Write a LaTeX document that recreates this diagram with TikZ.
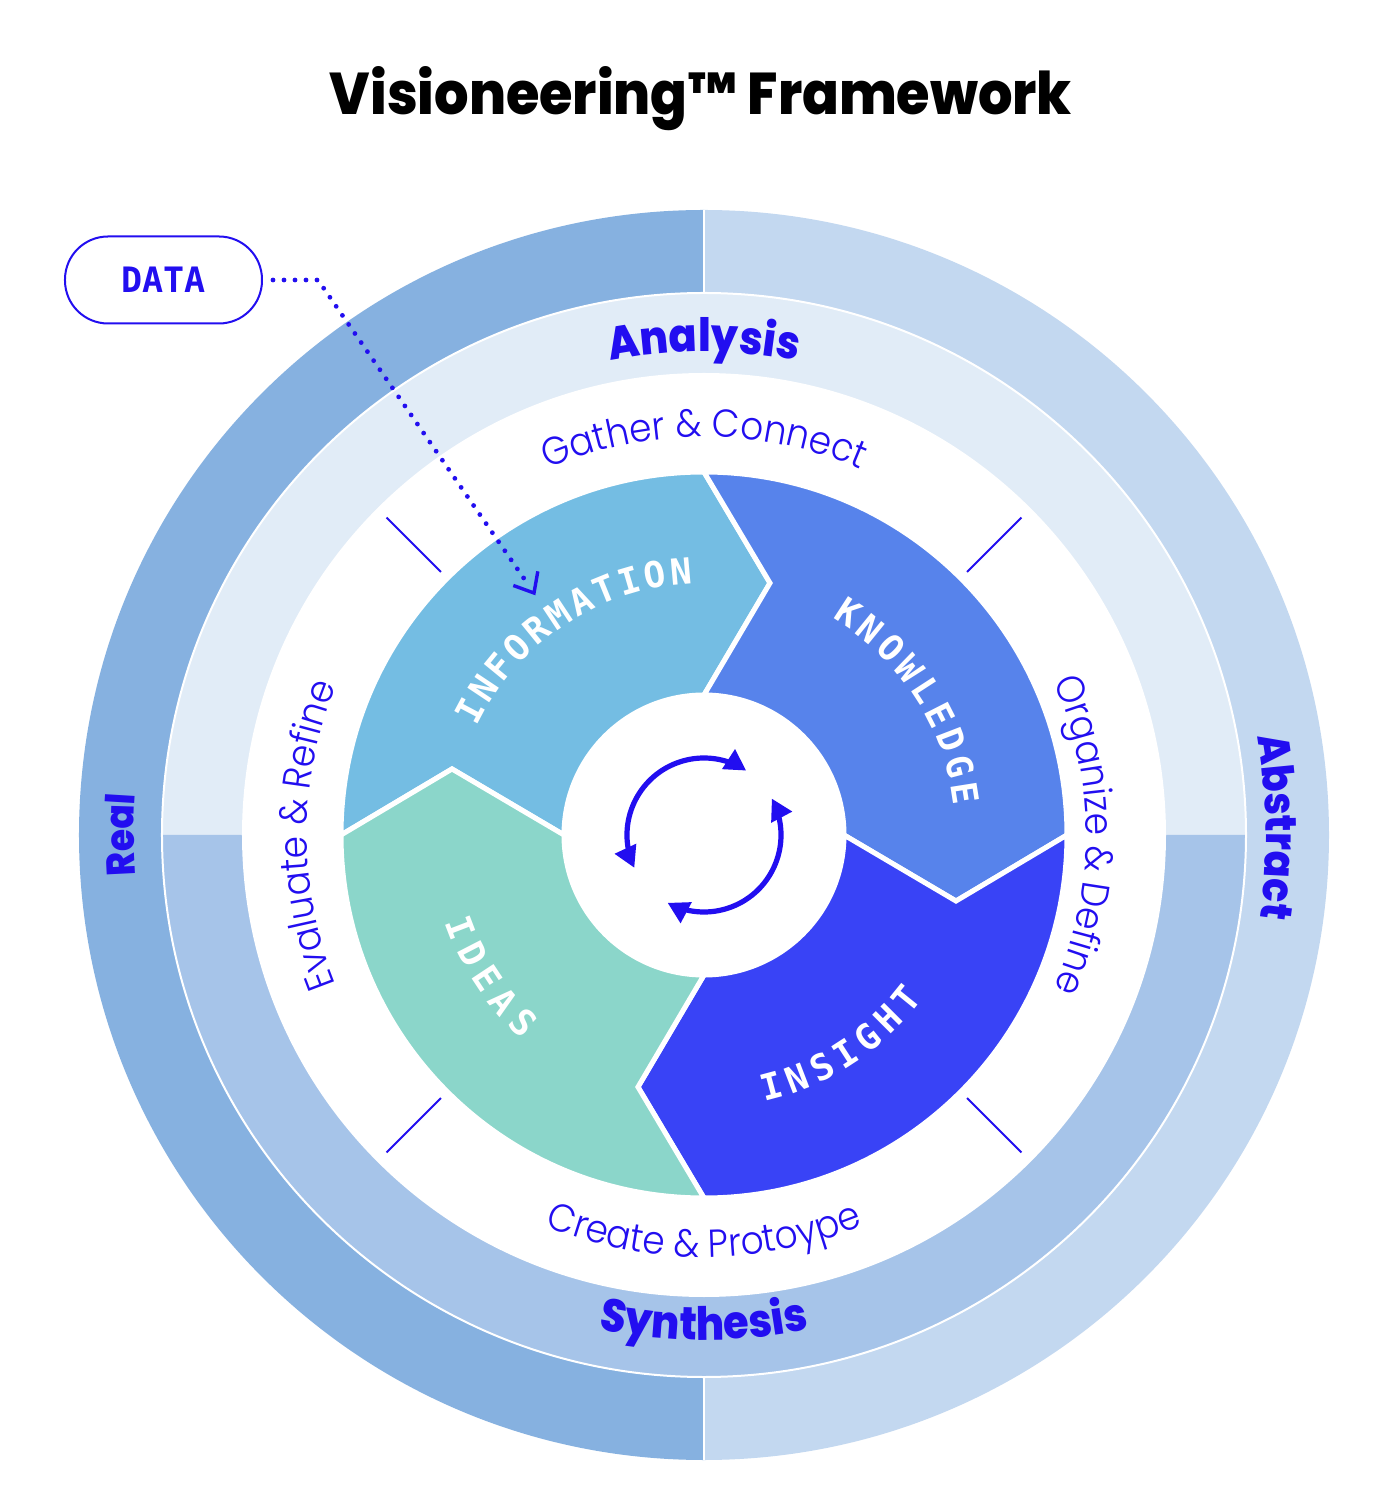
\documentclass[tikz,border=0pt]{standalone}
\usepackage{fontspec}
\usepackage{graphicx}
\usetikzlibrary{arrows.meta,decorations.text}
\setmainfont{Poppins}
\newfontfamily\heavyf{Poppins ExtraBold}[FakeStretch=0.9]
\newfontfamily\lightf{Poppins Light}[FakeStretch=0.92]
\newfontfamily\monof{DejaVu Sans Mono}
\newfontfamily\titlef{Poppins ExtraBold}
\definecolor{vblue}{RGB}{34,14,240}
\definecolor{outL}{HTML}{86B1E0}
\definecolor{outR}{HTML}{C3D8F0}
\definecolor{midT}{HTML}{E1ECF7}
\definecolor{midB}{HTML}{A6C4E9}
\definecolor{infoC}{HTML}{74BDE3}
\definecolor{knowC}{HTML}{5783EB}
\definecolor{insC}{HTML}{3943F6}
\definecolor{ideaC}{HTML}{8BD6CA}
\tikzset{
  seglbl/.style={text=white, font=\monof\bfseries\fontsize{18}{19}\selectfont, inner sep=0pt, text height=0.73em, text depth=0pt, anchor=center},
  segshape/.style={draw=white, line width=2.5pt, line join=miter},
  tickline/.style={draw=vblue, line width=1pt},
  cyc/.style={draw=vblue, line width=2.6pt},
  cyctip/.style={fill=vblue},
  databox/.style={draw=vblue, line width=1pt, rounded corners=21.5pt, minimum width=98.5pt, minimum height=43.5pt, text=vblue, font=\monof\bfseries\fontsize{17.5}{18}\selectfont, inner sep=0pt},
  dotline/.style={draw=vblue, line width=2.4pt, line cap=round, dash pattern=on 0pt off 5.5pt, shorten >=4pt},
  barb/.style={draw=vblue, line width=1.7pt, line join=miter},
  curvtext/.style={decorate, decoration={text along path, text align=center, text color=vblue, text={#1}}},
}
\begin{document}
\begin{tikzpicture}[x=0.5pt,y=0.5pt]
\useasboundingbox (-704,-663) rectangle (696,835);
\fill[white] (-704,-663) rectangle (696,835);

% title
\node[anchor=base, inner sep=0pt] (title) at (-3,720) {\resizebox{371pt}{24pt}{\titlef Visioneering\char"2122\ Framework}};

% rings
\fill[outL] (90:625) arc[start angle=90,end angle=270,radius=625] -- cycle;
\fill[outR] (-90:625) arc[start angle=-90,end angle=90,radius=625] -- cycle;
\fill[midT] (0:542) arc[start angle=0,end angle=180,radius=542] -- cycle;
\fill[midB] (180:542) arc[start angle=180,end angle=360,radius=542] -- cycle;
\draw[white, line width=1pt] (0,0) circle[radius=542];
\draw[white, line width=1pt] (0,542) -- (0,625) (0,-542) -- (0,-625);
\fill[white] (0,0) circle[radius=462];

% ring labels
\path[curvtext={|\heavyf\fontsize{23}{26}\selectfont|Analysis}] (135:483) arc[start angle=135,end angle=45,radius=483];
\path[curvtext={|\heavyf\fontsize{23}{26}\selectfont|Synthesis}] (-135:505) arc[start angle=-135,end angle=-45,radius=505];
\path[curvtext={|\heavyf\fontsize{22}{26}\selectfont|Abstract}] (45.8:562) arc[start angle=45.8,end angle=-44.2,radius=562];
\path[curvtext={|\heavyf\fontsize{20}{24}\selectfont|Real}] (225:570) arc[start angle=225,end angle=135,radius=570];

% step labels
\path[curvtext={|\lightf\fontsize{19.5}{22}\selectfont|Gather {\&} Connect}] (150:398) arc[start angle=150,end angle=30,radius=398];
\path[curvtext={|\lightf\fontsize{19.5}{22}\selectfont|Organize {\&} Define}] (60:382) arc[start angle=60,end angle=-60,radius=382];
\path[curvtext={|\lightf\fontsize{19.5}{22}\selectfont|Create {\&} Protoype}] (-150:422) arc[start angle=-150,end angle=-30,radius=422];
\path[curvtext={|\lightf\fontsize{19.5}{22}\selectfont|Evaluate {\&} Refine}] (240:397) arc[start angle=240,end angle=120,radius=397];

% ticks
\foreach \a in {45,135,225,315} \draw[tickline] (\a:372) -- (\a:449);

% segments
\fill[infoC, segshape] (180:363) arc[start angle=180,end angle=90,radius=363] -- (75.32:260.5) -- (90:140) arc[start angle=90,end angle=180,radius=140] -- (165.32:260.5) -- cycle;
\fill[knowC, segshape] (90:363) arc[start angle=90,end angle=0,radius=363] -- (-14.68:260.5) -- (0:140) arc[start angle=0,end angle=90,radius=140] -- (75.32:260.5) -- cycle;
\fill[insC, segshape] (0:363) arc[start angle=0,end angle=-90,radius=363] -- (-104.68:260.5) -- (-90:140) arc[start angle=-90,end angle=0,radius=140] -- (-14.68:260.5) -- cycle;
\fill[ideaC, segshape] (-90:363) arc[start angle=-90,end angle=-180,radius=363] -- (165.32:260.5) -- (180:140) arc[start angle=180,end angle=270,radius=140] -- (-104.68:260.5) -- cycle;

% segment labels
\foreach \ch [count=\i] in {I,N,F,O,R,M,A,T,I,O,N}{
  \pgfmathsetmacro\ang{123.5-(\i-6)*5.7}
  \node[seglbl, rotate=\ang-90] (info\i) at (\ang:259) {\ch};
}
\foreach \ch [count=\i] in {K,N,O,W,L,E,D,G,E}{
  \pgfmathsetmacro\ang{33-(\i-5)*6}
  \node[seglbl, rotate=\ang-90] (know\i) at (\ang:259) {\ch};
}
\foreach \ch [count=\i] in {I,N,S,I,G,H,T}{
  \pgfmathsetmacro\ang{-57+(\i-4)*6}
  \node[seglbl, rotate=\ang+90] (ins\i) at (\ang:266) {\ch};
}
\foreach \ch [count=\i] in {I,D,E,A,S}{
  \pgfmathsetmacro\ang{-146.5+(\i-3)*6.25}
  \node[seglbl, rotate=\ang+90] (idea\i) at (\ang:266) {\ch};
}

% center cycle icon
\draw[cyc] (195:77) arc[start angle=195,end angle=67,radius=77];
\draw[cyc] (18:77) arc[start angle=18,end angle=-108,radius=77];
\coordinate (tA1) at (57:77);
\coordinate (tA2) at (205:77);
\coordinate (tB1) at (28:77);
\coordinate (tB2) at (-118:77);
\fill[cyctip] (tA1) -- ++(-33+150:24) -- ++(-33-90:24) -- cycle;
\fill[cyctip] (tA2) -- ++(295+150:24) -- ++(295-90:24) -- cycle;
\fill[cyctip] (tB1) -- ++(118+150:24) -- ++(118-90:24) -- cycle;
\fill[cyctip] (tB2) -- ++(152+150:24) -- ++(152-90:24) -- cycle;

% DATA
\node[databox] (data) at (-540.5,555) {DATA};
\coordinate (dbend) at (-386,555);
\coordinate (dend) at (-170,242);
\draw[dotline] ([xshift=5pt]data.east) -- (dbend) -- (dend);
\draw[barb] ([shift={(160:22)}]dend) -- (dend) -- ++(80:22);
\end{tikzpicture}
\end{document}
